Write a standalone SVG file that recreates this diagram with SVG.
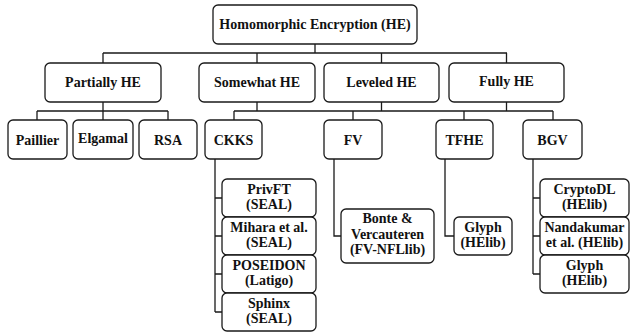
<svg xmlns="http://www.w3.org/2000/svg" width="630" height="332" viewBox="0 0 630 332">
<style>
.b{fill:#fff;stroke:#1a1a1a;stroke-width:1.3}
.t{font-weight:bold;font-size:14px;fill:#111;text-anchor:middle}
.c{fill:none;stroke:#1a1a1a;stroke-width:1.3}
</style>
<rect width="630" height="332" fill="#fff"/>
<g id="connectors" class="c">
<path d="M315,44V53M103,53H507M103,53V63M257,53V63M381.5,53V63M506.5,53V63"/>
<path d="M103,102V111M37,111H168M37,111V120M103,111V120M168,111V120"/>
<path d="M257,102V111M381.5,102V111M506.5,102V111M234,111H553M234,111V120M353,111V120M464,111V120M553,111V120"/>
<path d="M215,159V312M215,198H222M215,236H222M215,274H222M215,312H222"/>
<path d="M334,159V236H341"/>
<path d="M445,159V236H454"/>
<path d="M533,159V274M533,198H540M533,236H540M533,274H540"/>
</g>
<g font-family="Liberation Serif, DejaVu Serif, serif">
<g id="root"><rect class="b" x="213" y="5" width="204" height="39" rx="5"/><text class="t" x="315" y="29">Homomorphic Encryption (HE)</text></g>
<g id="partially"><rect class="b" x="45" y="63" width="116" height="39" rx="5"/><text class="t" x="103" y="87">Partially HE</text></g>
<g id="somewhat"><rect class="b" x="199" y="63" width="116" height="39" rx="5"/><text class="t" x="257" y="87">Somewhat HE</text></g>
<g id="leveled"><rect class="b" x="324" y="63" width="115" height="39" rx="5"/><text class="t" x="381.5" y="87">Leveled HE</text></g>
<g id="fully"><rect class="b" x="449" y="63" width="115" height="39" rx="5"/><text class="t" x="506.5" y="86">Fully HE</text></g>
<g id="paillier"><rect class="b" x="8" y="120" width="59" height="39" rx="5"/><text class="t" x="37.5" y="145">Paillier</text></g>
<g id="elgamal"><rect class="b" x="73" y="120" width="60" height="39" rx="5"/><text class="t" x="103" y="143">Elgamal</text></g>
<g id="rsa"><rect class="b" x="139" y="120" width="58" height="39" rx="5"/><text class="t" x="168" y="145">RSA</text></g>
<g id="ckks"><rect class="b" x="205" y="120" width="57" height="39" rx="5"/><text class="t" x="233.5" y="145">CKKS</text></g>
<g id="fv"><rect class="b" x="324" y="120" width="58" height="39" rx="5"/><text class="t" x="353" y="145">FV</text></g>
<g id="tfhe"><rect class="b" x="436" y="120" width="57" height="39" rx="5"/><text class="t" x="464.5" y="145">TFHE</text></g>
<g id="bgv"><rect class="b" x="523" y="120" width="59" height="39" rx="5"/><text class="t" x="552.5" y="145">BGV</text></g>
<g id="privft"><rect class="b" x="222" y="179" width="94" height="38" rx="5"/><text class="t" x="269" y="194">PrivFT</text><text class="t" x="269" y="208.5">(SEAL)</text></g>
<g id="mihara"><rect class="b" x="222" y="217" width="94" height="38" rx="5"/><text class="t" x="269" y="232">Mihara et al.</text><text class="t" x="269" y="246.5">(SEAL)</text></g>
<g id="poseidon"><rect class="b" x="222" y="255" width="94" height="38" rx="5"/><text class="t" x="269" y="270">POSEIDON</text><text class="t" x="269" y="284.5">(Latigo)</text></g>
<g id="sphinx"><rect class="b" x="222" y="293" width="94" height="38" rx="5"/><text class="t" x="269" y="308">Sphinx</text><text class="t" x="269" y="322.5">(SEAL)</text></g>
<g id="bonte"><rect class="b" x="341" y="209" width="93" height="54" rx="5"/><text class="t" x="387.5" y="223">Bonte &amp;</text><text class="t" x="387.5" y="238.5">Vercauteren</text><text class="t" x="387.5" y="254">(FV-NFLlib)</text></g>
<g id="glyph-tfhe"><rect class="b" x="454" y="217" width="58" height="38" rx="5"/><text class="t" x="483" y="232">Glyph</text><text class="t" x="483" y="246.5">(HElib)</text></g>
<g id="cryptodl"><rect class="b" x="540" y="179" width="89" height="38" rx="5"/><text class="t" x="584.5" y="194">CryptoDL</text><text class="t" x="584.5" y="208.5">(HElib)</text></g>
<g id="nandakumar"><rect class="b" x="540" y="217" width="89" height="38" rx="5"/><text class="t" x="584.5" y="232">Nandakumar</text><text class="t" x="584.5" y="246.5">et al. (HElib)</text></g>
<g id="glyph-bgv"><rect class="b" x="540" y="255" width="89" height="38" rx="5"/><text class="t" x="584.5" y="270">Glyph</text><text class="t" x="584.5" y="284.5">(HElib)</text></g>
</g>
</svg>
